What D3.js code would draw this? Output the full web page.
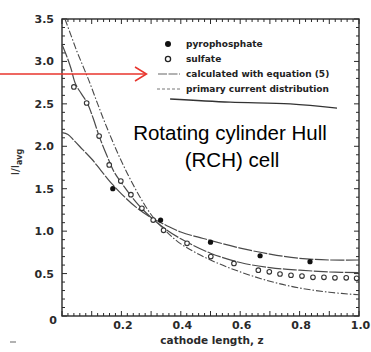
<!DOCTYPE html>
<html>
<head>
<meta charset="utf-8">
<script src="https://cdn.jsdelivr.net/npm/d3@7"></script>
<style>
  html, body { margin: 0; padding: 0; background: #fff; }
  svg { display: block; }
</style>
</head>
<body>
<div id="chart"></div>
<script>
// ---------- data ----------
const xTickValues = [0.2, 0.4, 0.6, 0.8, 1.0];
const xTickLabels = ["0.2", "0.4", "0.6", "0.8", "1.0"];
const yTickValues = [0, 0.5, 1.0, 1.5, 2.0, 2.5, 3.0, 3.5];
const yTickLabels = ["0", "0.5", "1.0", "1.5", "2.0", "2.5", "3.0", "3.5"];

// measured points
const pyroZ = [0.171, 0.332, 0.50, 0.667, 0.835];
const pyroY = [1.50, 1.13, 0.87, 0.71, 0.64];
const sulfZ = [0.040, 0.083, 0.125, 0.159, 0.198, 0.232, 0.269, 0.307, 0.342, 0.421, 0.501,
               0.579, 0.661, 0.698, 0.734, 0.771, 0.808, 0.845, 0.882, 0.919, 0.957, 0.992];
const sulfY = [2.70, 2.51, 2.12, 1.78, 1.59, 1.43, 1.27, 1.13, 1.01, 0.857, 0.70,
               0.62, 0.54, 0.52, 0.495, 0.48, 0.47, 0.456, 0.456, 0.45, 0.45, 0.444];

// calculated with equation (5) – pyrophosphate fit
const calcPyroZ = [0, 0.02, 0.04, 0.07, 0.1, 0.13, 0.17, 0.2, 0.25, 0.3, 0.35, 0.4, 0.5, 0.6, 0.7, 0.8, 0.9, 1.0];
const calcPyroY = [2.16, 2.14, 2.07, 1.96, 1.85, 1.72, 1.55, 1.44, 1.28, 1.16, 1.07, 0.99, 0.89, 0.80, 0.73, 0.68, 0.66, 0.66];
// calculated with equation (5) – sulfate fit
const calcSulfZ = [0, 0.015, 0.03, 0.045, 0.065, 0.085, 0.105, 0.125, 0.15, 0.175, 0.2, 0.25, 0.3, 0.35, 0.4, 0.5, 0.6, 0.7, 0.8, 0.9, 1.0];
const calcSulfY = [3.20, 3.07, 2.92, 2.74, 2.62, 2.51, 2.33, 2.12, 1.90, 1.70, 1.57, 1.34, 1.16, 1.02, 0.91, 0.74, 0.63, 0.57, 0.54, 0.52, 0.51];
// primary current distribution
const primZ = [0.01, 0.03, 0.05, 0.07, 0.09, 0.12, 0.15, 0.19, 0.22, 0.25, 0.28, 0.31, 0.35, 0.4, 0.5, 0.6, 0.7, 0.8, 0.9, 1.0];
const primY = [3.5, 3.31, 3.12, 2.95, 2.78, 2.50, 2.23, 1.90, 1.68, 1.48, 1.30, 1.15, 1.00, 0.85, 0.66, 0.52, 0.41, 0.33, 0.28, 0.25];

// stray legend stroke (scan artefact) in data units
const strokeZ = [0.364, 0.566, 0.768, 0.926];
const strokeY = [2.557, 2.52, 2.50, 2.45];

const legendLabels = ["pyrophosphate", "sulfate", "calculated with equation (5)", "primary current distribution"];

// ---------- layout ----------
const W = 371, H = 352;
const svg = d3.select("#chart").append("svg").attr("width", W).attr("height", H);
svg.append("rect").attr("width", W).attr("height", H).attr("fill", "#fff");

const x = d3.scaleLinear().domain([0, 1]).range([62, 359]);
const y = d3.scaleLinear().domain([0, 3.5]).range([316, 19]);

const ink = "#2a2a2a";
const curveInk = "#4a4a4a";
const tickFont = "'DejaVu Sans', sans-serif";

// frame
svg.append("rect")
  .attr("x", x(0)).attr("y", y(3.5))
  .attr("width", x(1) - x(0)).attr("height", y(0) - y(3.5))
  .attr("fill", "none").attr("stroke", ink).attr("stroke-width", 1.4);

// ticks (inward) on all four sides
const g = svg.append("g").attr("stroke", ink).attr("stroke-width", 1);
const xMinor = d3.range(0, 51).map(i => i * 0.02);
xMinor.forEach((v, i) => {
  const len = i % 5 === 0 ? 5 : 3;
  g.append("line").attr("x1", x(v)).attr("x2", x(v)).attr("y1", y(0)).attr("y2", y(0) - len);
  g.append("line").attr("x1", x(v)).attr("x2", x(v)).attr("y1", y(3.5)).attr("y2", y(3.5) + len);
});
const yMinor = d3.range(0, 36).map(i => i * 0.1);
yMinor.forEach((v, i) => {
  const len = i % 5 === 0 ? 5 : 3;
  g.append("line").attr("x1", x(0)).attr("x2", x(0) + len).attr("y1", y(v)).attr("y2", y(v));
  g.append("line").attr("x1", x(1)).attr("x2", x(1) - len).attr("y1", y(v)).attr("y2", y(v));
});

// tick labels
svg.append("g").selectAll("text").data(xTickValues).join("text")
  .attr("x", d => x(d) + 1.5).attr("y", 329)
  .attr("text-anchor", "middle")
  .attr("font-family", tickFont).attr("font-weight", "bold").attr("font-size", 11)
  .attr("fill", ink)
  .text((d, i) => xTickLabels[i]);

svg.append("g").selectAll("text").data(yTickValues).join("text")
  .attr("x", d => d === 0 ? 57 : 54)
  .attr("y", d => d === 0 ? y(d) + 4 : y(d))
  .attr("dy", "0.36em")
  .attr("text-anchor", "end")
  .attr("font-family", tickFont).attr("font-weight", "bold").attr("font-size", 11)
  .attr("fill", ink)
  .text((d, i) => yTickLabels[i]);

// axis titles
svg.append("text")
  .attr("x", 212).attr("y", 343.5)
  .attr("text-anchor", "middle")
  .attr("font-family", tickFont).attr("font-weight", "bold").attr("font-size", 10.5)
  .attr("fill", ink)
  .text("cathode length, z");

const yt = svg.append("text")
  .attr("transform", "translate(19,162) rotate(-90)")
  .attr("text-anchor", "middle")
  .attr("font-family", tickFont).attr("font-size", 11)
  .attr("fill", "#333");
yt.append("tspan").text("I/I");
yt.append("tspan").attr("font-size", 8).attr("font-weight", "bold").attr("dy", 3).text("avg");

// curves
const line = d3.line().x(d => x(d[0])).y(d => y(d[1])).curve(d3.curveCatmullRom.alpha(0.5));
const zip = (a, b) => a.map((v, i) => [v, b[i]]);

svg.append("path").datum(zip(primZ, primY)).attr("d", line)
  .attr("fill", "none").attr("stroke", curveInk).attr("stroke-width", 1.1)
  .attr("stroke-dasharray", "7,2,1.5,2");
svg.append("path").datum(zip(calcSulfZ, calcSulfY)).attr("d", line)
  .attr("fill", "none").attr("stroke", curveInk).attr("stroke-width", 1.2)
  .attr("stroke-dasharray", "14,1.5");
svg.append("path").datum(zip(calcPyroZ, calcPyroY)).attr("d", line)
  .attr("fill", "none").attr("stroke", curveInk).attr("stroke-width", 1.2)
  .attr("stroke-dasharray", "14,1.5");

// stray legend stroke
svg.append("path").datum(zip(strokeZ, strokeY)).attr("d", line)
  .attr("fill", "none").attr("stroke", "#333").attr("stroke-width", 1.3);

// points
svg.append("g").selectAll("circle").data(zip(sulfZ, sulfY)).join("circle")
  .attr("cx", d => x(d[0])).attr("cy", d => y(d[1])).attr("r", 2.3)
  .attr("fill", "#fff").attr("stroke", "#333").attr("stroke-width", 1.1);
svg.append("g").selectAll("circle").data(zip(pyroZ, pyroY)).join("circle")
  .attr("cx", d => x(d[0])).attr("cy", d => y(d[1])).attr("r", 2.6)
  .attr("fill", "#111");

// legend
const lg = svg.append("g");
const rowY = [44, 59, 74, 89];
lg.append("circle").attr("cx", 168).attr("cy", rowY[0]).attr("r", 3).attr("fill", "#111");
lg.append("circle").attr("cx", 168).attr("cy", rowY[1]).attr("r", 2.6)
  .attr("fill", "#fff").attr("stroke", "#222").attr("stroke-width", 1.3);
lg.append("line").attr("x1", 158).attr("x2", 180).attr("y1", rowY[2]).attr("y2", rowY[2])
  .attr("stroke", "#666").attr("stroke-width", 1.1).attr("stroke-dasharray", "9,1.5");
lg.append("line").attr("x1", 157).attr("x2", 180).attr("y1", rowY[3]).attr("y2", rowY[3])
  .attr("stroke", "#777").attr("stroke-width", 1).attr("stroke-dasharray", "3,2");
lg.selectAll("text").data(legendLabels).join("text")
  .attr("x", 186).attr("y", (d, i) => rowY[i]).attr("dy", "0.33em")
  .attr("font-family", tickFont).attr("font-weight", "bold").attr("font-size", 9)
  .attr("fill", "#222")
  .text(d => d);

// annotation text
const ann = svg.append("text").attr("text-anchor", "middle")
  .attr("font-family", "'Liberation Sans', Arial, sans-serif").attr("font-size", 20.5).attr("fill", "#000");
ann.append("tspan").attr("x", 230).attr("y", 140).text("Rotating cylinder Hull");
ann.append("tspan").attr("x", 232).attr("y", 167).text("(RCH) cell");

// red arrow
svg.append("line").attr("x1", 0).attr("x2", 146).attr("y1", 74).attr("y2", 74)
  .attr("stroke", "#e8352d").attr("stroke-width", 1.5);
svg.append("polyline").attr("points", "135,67 146.5,74 135,81")
  .attr("fill", "none").attr("stroke", "#e8352d").attr("stroke-width", 1.5);

// small scan mark
svg.append("line").attr("x1", 10).attr("x2", 16).attr("y1", 342).attr("y2", 342)
  .attr("stroke", "#999").attr("stroke-width", 1.5);
</script>
</body>
</html>
